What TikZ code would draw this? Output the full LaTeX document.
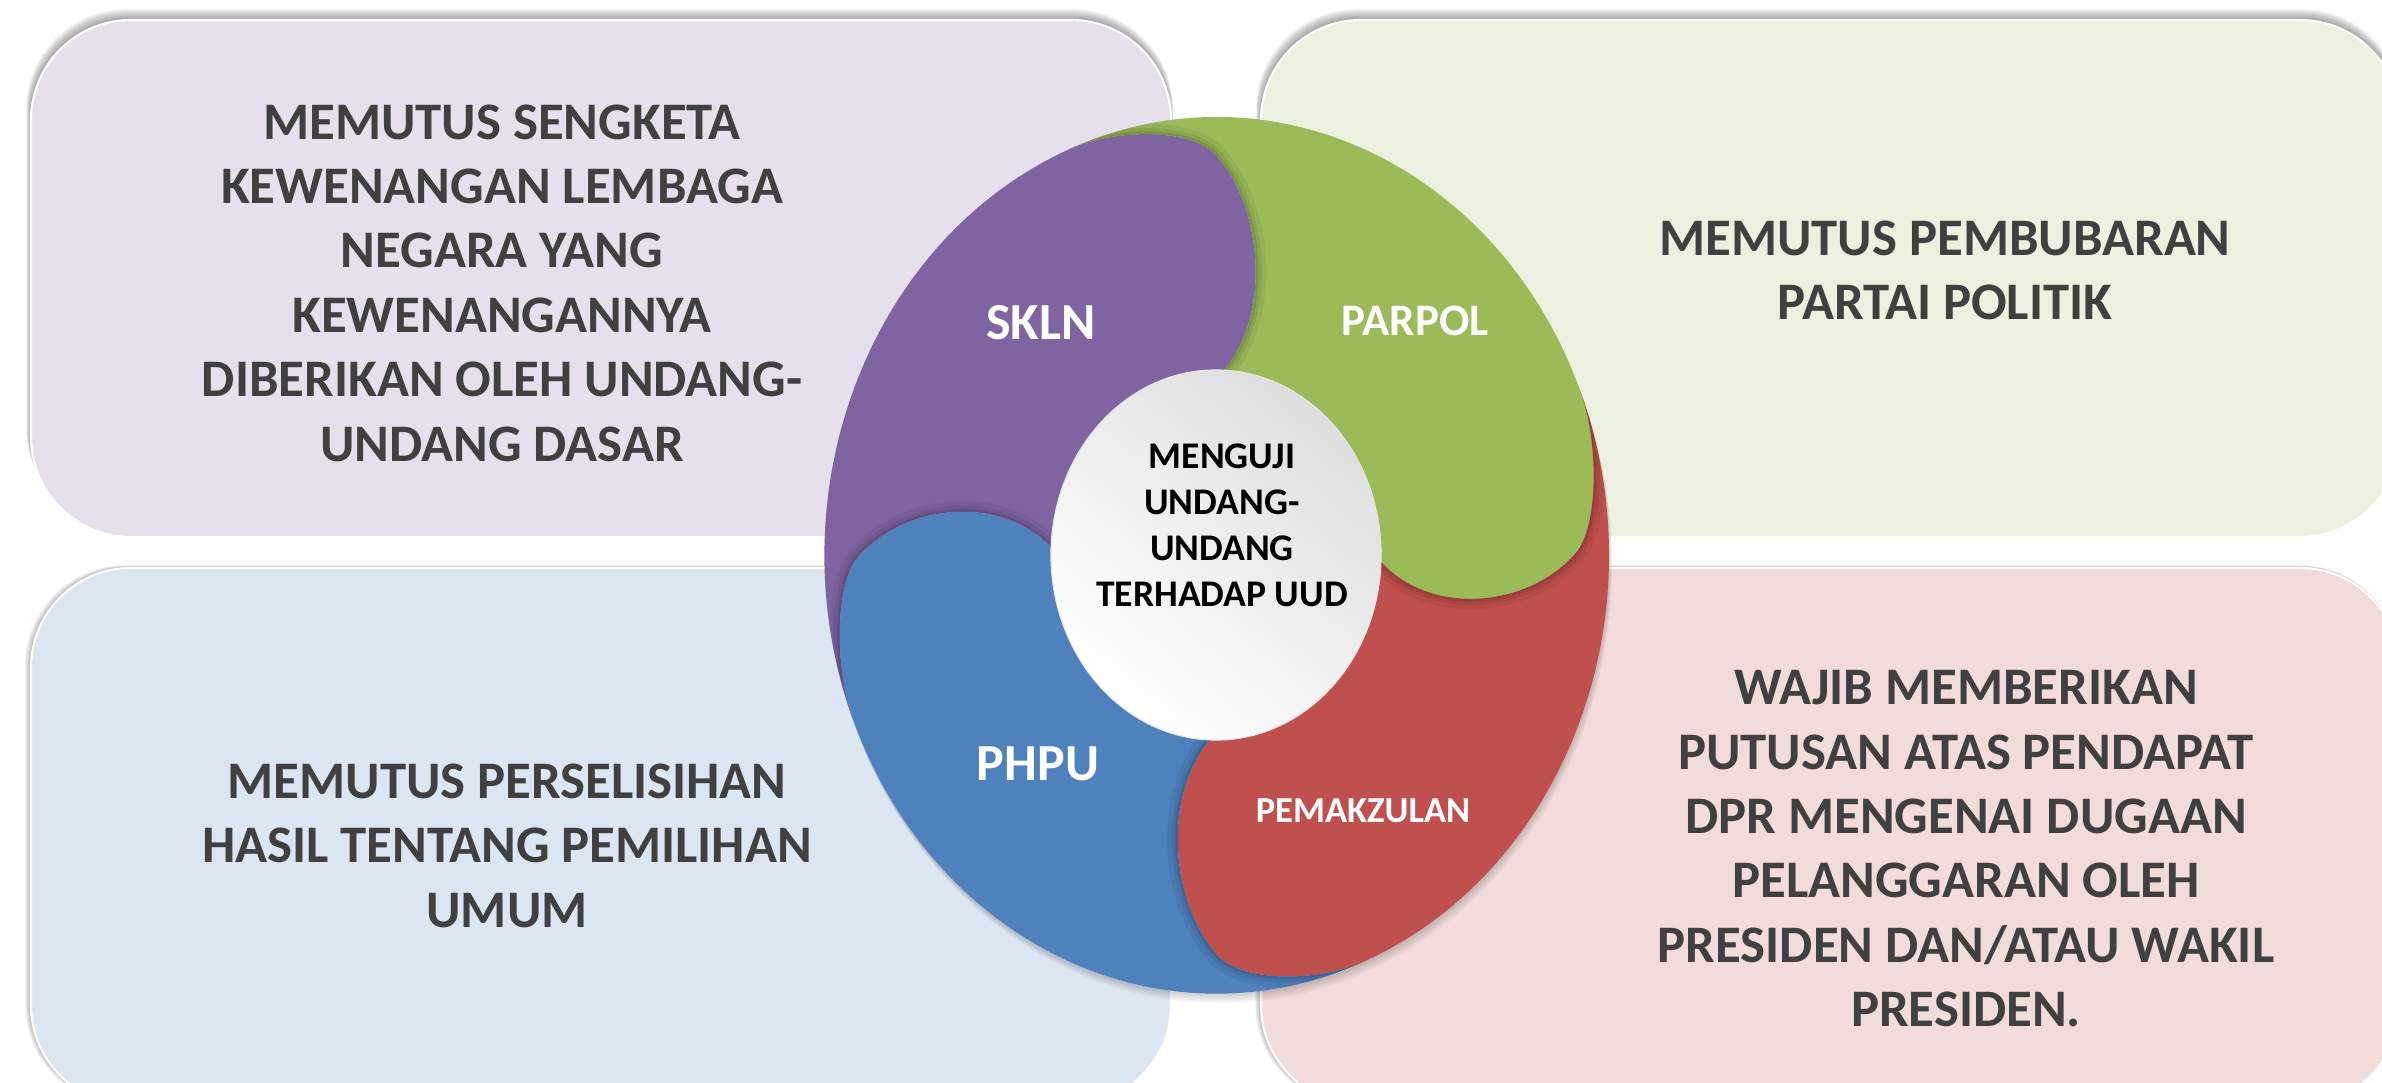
\documentclass[tikz,border=0pt]{standalone}
\usepackage{fontspec}
\setmainfont{Carlito}
\usepackage{tikz}

\definecolor{sklncol}{HTML}{8064A2}
\definecolor{parpolcol}{HTML}{9BBB59}
\definecolor{pemakcol}{HTML}{C0504D}
\definecolor{phpucol}{HTML}{4F81BD}
\definecolor{sklnbg}{HTML}{E5E0EC}
\definecolor{parpolbg}{HTML}{EBF1DE}
\definecolor{pemakbg}{HTML}{F2DCDB}
\definecolor{phpubg}{HTML}{DCE6F2}
\definecolor{boxtextcol}{HTML}{404040}

\tikzset{
  infobox/.style={draw=white, line width=0.6pt, rounded corners=1cm},
  boxshade/.style={black, opacity=0.045, rounded corners=1cm},
  boxtext/.style={anchor=north, align=center, inner sep=0pt, text=boxtextcol,
    font=\bfseries\fontsize{15}{18.3}\selectfont},
  petallabel/.style={anchor=north, inner sep=0pt, text=white, font=\bfseries},
  headshade/.style={black, line cap=round}
}

% one petal in the unit circle, head at the top, tail under the next one
\newcommand{\petalpath}{(0.018,0.422) .. controls (0.14,0.55) and (0.12,0.80) .. (-0.01,0.92)
  .. controls (-0.08,0.975) and (-0.264,0.972) .. (112:1)
  arc[start angle=112, end angle=202, radius=1]
  .. controls (-0.972,-0.264) and (-0.975,-0.08) .. (-0.92,-0.01)
  .. controls (-0.80,0.12) and (-0.55,0.14) .. (-0.422,0.018) -- (0,0) -- cycle}
\newcommand{\prevhead}{(202:1) .. controls (-0.972,-0.264) and (-0.975,-0.08) .. (-0.92,-0.01)
  .. controls (-0.80,0.12) and (-0.55,0.14) .. (-0.422,0.018)}

\begin{document}
\begin{tikzpicture}[x=0.01cm, y=-0.01cm]
  \useasboundingbox (0,0) rectangle (2382,1083);

  % boxes
  \foreach \k in {1,...,10} {
    \fill[boxshade] (31-\k*0.5,20-\k*1.1) rectangle (1171+\k*0.2,537-\k*1);
    \fill[boxshade] (1261-\k*0.5,20-\k*1.1) rectangle (2400+\k*0.2,537-\k*1);
    \fill[boxshade, opacity=0.03] (31-\k*0.6,568-\k*0.3) rectangle (1171,1105);
    \fill[boxshade, opacity=0.03] (1261-\k*0.6,568-\k*0.3) rectangle (2400,1105);
  }
  \filldraw[infobox, fill=sklnbg] (31,20) rectangle (1171,537);
  \filldraw[infobox, fill=parpolbg] (1261,20) rectangle (2400,537);
  \filldraw[infobox, fill=phpubg] (31,568) rectangle (1171,1105);
  \filldraw[infobox, fill=pemakbg] (1261,568) rectangle (2400,1105);

  \node[boxtext] (sklnbox) at (502,104) {MEMUTUS SENGKETA\\KEWENANGAN LEMBAGA\\NEGARA YANG\\KEWENANGANNYA\\DIBERIKAN OLEH UNDANG-\\UNDANG DASAR};
  \node[boxtext] (parpolbox) at (1945,220) {MEMUTUS PEMBUBARAN\\PARTAI POLITIK};
  \node[boxtext] (phpubox) at (507,763) {MEMUTUS PERSELISIHAN\\HASIL TENTANG PEMILIHAN\\UMUM};
  \node[boxtext] (pemakbox) at (1966,670) {WAJIB MEMBERIKAN\\PUTUSAN ATAS PENDAPAT\\DPR MENGENAI DUGAAN\\PELANGGARAN OLEH\\PRESIDEN DAN/ATAU WAKIL\\PRESIDEN.};

  % wheel
  \foreach \k in {1,...,5}
    \fill[black, opacity=0.04] (1216+\k*0.8,555+\k*2) ellipse[x radius=3.92cm, y radius=4.38cm];
  \begin{scope}[shift={(12.16cm,-5.55cm)}, x=1cm, y=1cm, xscale=3.92, yscale=4.38]
    \foreach \ang/\col in {0/sklncol, -90/parpolcol, -180/pemakcol, -270/phpucol} {
      \begin{scope}[rotate=\ang]
        \fill[\col] \petalpath;
        \begin{scope}
          \clip \petalpath;
          \draw[headshade, opacity=0.05, line width=6pt] \prevhead;
          \draw[headshade, opacity=0.07, line width=3.5pt] \prevhead;
          \draw[headshade, opacity=0.09, line width=1.6pt] \prevhead;
        \end{scope}
      \end{scope}
    }
  \end{scope}
  \shade[top color=black!13, bottom color=white, shading angle=-40, draw=black!10, line width=0.3pt]
    (1216,555) ellipse[x radius=1.65cm, y radius=1.85cm];

  \node[anchor=north, align=center, inner sep=0pt, font=\bfseries\fontsize{10.7}{13.1}\selectfont] (uji) at (1222,443) {MENGUJI\\UNDANG-\\UNDANG\\TERHADAP UUD};
  \node[petallabel, font=\bfseries\fontsize{14.8}{17}\selectfont] (skln) at (1041,305) {SKLN};
  \node[petallabel, font=\bfseries\fontsize{12.8}{15}\selectfont] (parpol) at (1415,305) {PARPOL};
  \node[petallabel, font=\bfseries\fontsize{14.8}{17}\selectfont] (phpu) at (1038,746) {PHPU};
  \node[petallabel, font=\bfseries\fontsize{10.4}{12}\selectfont] (pemak) at (1363,798) {PEMAKZULAN};
\end{tikzpicture}
\end{document}
